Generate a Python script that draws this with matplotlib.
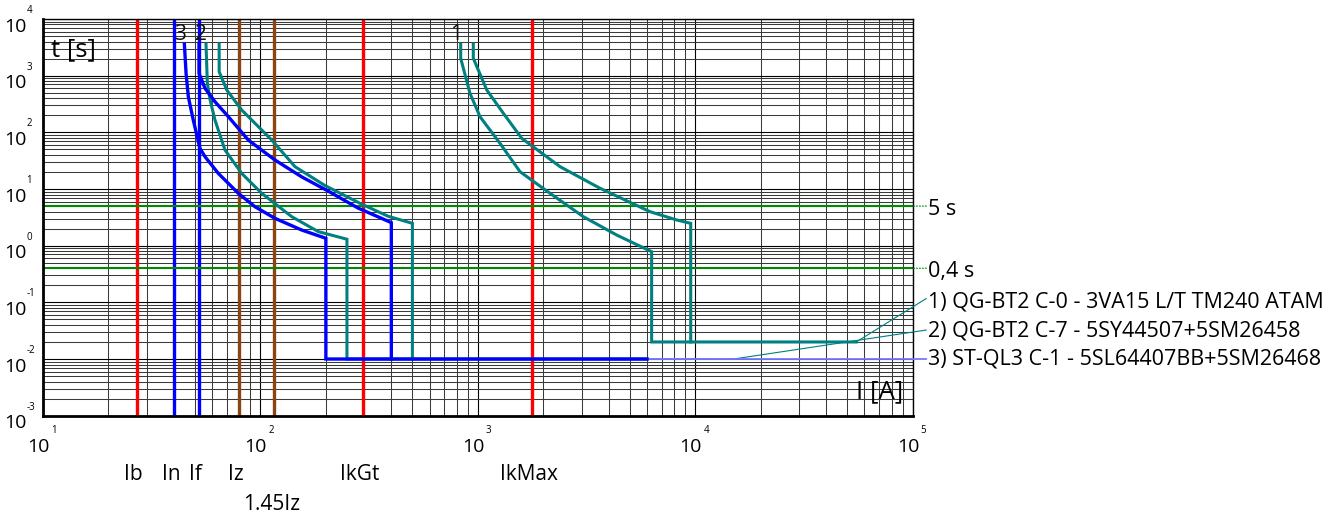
import numpy as np
import matplotlib
matplotlib.use("Agg")
import matplotlib.pyplot as plt
from matplotlib.ticker import LogLocator, NullFormatter

plt.rcParams['font.family'] = ['Open Sans', 'DejaVu Sans']

# Reference currents drawn as vertical markers (A)
ref_names = ['Ib', 'In', 'If', 'Iz', '1.45Iz', 'IkGt', 'IkMax']
ref_currents = [27, 40, 52, 80, 116, 295, 1770]
ref_colors = ['#FF0000', '#0000FF', '#0000FF', '#8B4513', '#8B4513', '#FF0000', '#FF0000']
ref_rows = [0, 0, 0, 0, 1, 0, 0]

# Disconnection time limits (s)
time_limits = [5, 0.4]
time_labels = ['5 s', '0,4 s']

# Device 1: QG-BT2 C-0 (3VA15 TM240)
dev1_min_I = [834, 834, 920, 1023, 1264, 1563, 2148, 3056, 4353, 6300, 6300, 55000]
dev1_min_t = [3600, 2026, 489, 189, 64.1, 20.2, 8.4, 3.25, 1.54, 0.783, 0.02, 0.02]
dev1_max_I = [953, 953, 1099, 1310, 1592, 2388, 3648, 6194, 8222, 9530, 9530]
dev1_max_t = [3600, 2026, 559, 217, 78.5, 24.8, 10.3, 3.98, 2.84, 2.48, 0.02]

# Device 2: QG-BT2 C-7 (5SY44507)
dev2_min_I = [56.2, 57.0, 58.7, 61.8, 68.7, 82.0, 101.4, 139.3, 184.6, 250, 250, 6000]
dev2_min_t = [3600, 733, 372, 165, 48.8, 18.9, 8.4, 3.25, 1.77, 1.30, 0.01, 0.01]
dev2_max_I = [64.6, 64.6, 70.0, 82.0, 112.7, 144.2, 198.2, 292.4, 387, 500, 500]
dev2_max_t = [3600, 1175, 559, 248, 73.3, 24.8, 11.5, 5.4, 3.3, 2.48, 0.01]
dev2_tail_I = [6000, 15000]
dev2_tail_t = [0.01, 0.01]

# Device 3: ST-QL3 C-1 (5SL64407BB)
dev3_min_I = [44.7, 45.5, 46.6, 49.1, 52.7, 55.6, 64.0, 79.1, 94.4, 116.6, 154.8, 200, 200, 6000]
dev3_min_t = [3600, 1100, 426, 165, 52.3, 37.2, 18.9, 8.4, 4.87, 3.04, 1.89, 1.35, 0.01, 0.01]
dev3_max_I = [52.2, 52.2, 55.6, 61.8, 71.2, 87.9, 116.6, 155.2, 204.7, 281, 400, 400]
dev3_max_t = [3600, 1100, 599, 347, 189, 73.3, 32.5, 16.3, 9.2, 4.62, 2.55, 0.01]

device_labels = ['1) QG-BT2 C-0 - 3VA15 L/T TM240 ATAM',
                 '2) QG-BT2 C-7 - 5SY44507+5SM26458',
                 '3) ST-QL3 C-1 - 5SL64407BB+5SM26468']
x_decades = [1, 2, 3, 4, 5]
y_decades = [-3, -2, -1, 0, 1, 2, 3, 4]

TEAL = '#008080'
BLUE = '#0000FF'
GREEN = '#008A00'

fig = plt.figure(figsize=(13.37, 5.15), dpi=100)
ax = fig.add_axes([0.03216, 0.19282, 0.65048, 0.77029])
ax.set_xscale('log')
ax.set_yscale('log')
ax.set_xlim(10, 1e5)
ax.set_ylim(1e-3, 1e4)

for axis in (ax.xaxis, ax.yaxis):
    axis.set_major_locator(LogLocator(base=10, numticks=20))
    axis.set_minor_locator(LogLocator(base=10, subs=np.arange(2, 10), numticks=200))
    axis.set_major_formatter(NullFormatter())
    axis.set_minor_formatter(NullFormatter())
ax.tick_params(which='both', length=0)
ax.set_axisbelow(True)
ax.grid(which='major', color='#000000', lw=0.8)
ax.grid(which='minor', color='#3a3a3a', lw=0.75)

for side in ('left', 'bottom'):
    ax.spines[side].set_linewidth(2.0)
for side in ('top', 'right'):
    ax.spines[side].set_linewidth(1.0)

# reference current markers
for cur, col in zip(ref_currents, ref_colors):
    ax.axvline(cur, color=col, lw=2.4, zorder=2)

# time limits
for tl in time_limits:
    ax.axhline(tl, color=GREEN, lw=1.5, zorder=2)

# tripping characteristics
ax.plot(dev1_min_I, dev1_min_t, color=TEAL, lw=2.2, zorder=3, solid_joinstyle='miter')
ax.plot(dev1_max_I, dev1_max_t, color=TEAL, lw=2.2, zorder=3, solid_joinstyle='miter')
ax.plot(dev2_tail_I, dev2_tail_t, color=TEAL, lw=1.3, ls=(0, (1, 0.6)), zorder=3)
ax.plot(dev2_min_I, dev2_min_t, color=TEAL, lw=2.2, zorder=3, solid_joinstyle='miter')
ax.plot(dev2_max_I, dev2_max_t, color=TEAL, lw=2.2, zorder=3, solid_joinstyle='miter')
ax.plot(dev3_min_I, dev3_min_t, color=BLUE, lw=2.4, zorder=4, solid_joinstyle='miter')
ax.plot(dev3_max_I, dev3_max_t, color=BLUE, lw=2.4, zorder=4, solid_joinstyle='miter')

# curve numbers
for num, (i0, t0) in zip(['1', '2', '3'],
                         [(dev1_min_I[0], dev1_min_t[0]),
                          (dev2_min_I[0], dev2_min_t[0]),
                          (dev3_min_I[0], dev3_min_t[0])]):
    ax.annotate(num, xy=(i0, t0), xytext=(0.8, 3.0), textcoords='offset points',
                ha='right', va='baseline', fontsize=15, color='#111111')

# axis quantity labels
ax.annotate('t [s]', xy=(0, 1), xycoords='axes fraction', xytext=(5.5, -22.5),
            textcoords='offset points', ha='left', va='center', fontsize=18.5)
ax.annotate('I [A]', xy=(1, 0), xycoords='axes fraction', xytext=(-6.5, 17.5),
            textcoords='offset points', ha='right', va='center', fontsize=18.5)

# decade labels
for d in x_decades:
    ax.annotate('10', xy=(10.0 ** d, 0), xycoords=('data', 'axes fraction'),
                xytext=(4.6, -25.9), textcoords='offset points',
                ha='right', va='baseline', fontsize=14, annotation_clip=False)
    ax.annotate(str(d), xy=(10.0 ** d, 0), xycoords=('data', 'axes fraction'),
                xytext=(5.8, -12.8), textcoords='offset points',
                ha='left', va='baseline', fontsize=7, annotation_clip=False)
for d in y_decades:
    ax.annotate('10', xy=(0, 10.0 ** d), xycoords=('axes fraction', 'data'),
                xytext=(-12.0, -9.1), textcoords='offset points',
                ha='right', va='baseline', fontsize=14, annotation_clip=False)
    ax.annotate(str(d), xy=(0, 10.0 ** d), xycoords=('axes fraction', 'data'),
                xytext=(-11.8, 4.3), textcoords='offset points',
                ha='left', va='baseline', fontsize=7, annotation_clip=False)

# reference current names below the axis
for name, cur, row in zip(ref_names, ref_currents, ref_rows):
    ax.annotate(name, xy=(cur, 0), xycoords=('data', 'axes fraction'),
                xytext=(-2.2, -46.3 - 21.6 * row), textcoords='offset points',
                ha='center', va='baseline', fontsize=15, annotation_clip=False)

# time limit labels with dotted leaders
for tl, lab in zip(time_limits, time_labels):
    ax.annotate('', xy=(1.0, tl), xycoords=('axes fraction', 'data'),
                xytext=(1.0157, tl), textcoords=('axes fraction', 'data'),
                arrowprops=dict(arrowstyle='-', color=GREEN, lw=0.8, ls=':',
                                shrinkA=0, shrinkB=0), annotation_clip=False)
    ax.annotate(lab, xy=(1.0, tl), xycoords=('axes fraction', 'data'),
                xytext=(11.3, -6.6), textcoords='offset points',
                ha='left', va='baseline', fontsize=15.5, annotation_clip=False)

# device legend with leader lines
legend_y = [0.2854, 0.2140, 0.1429]
leader_end_y = [0.2955, 0.2160, 0.1429]
leader_start = [(dev1_min_I[-1], dev1_min_t[-1]),
                (dev2_tail_I[-1], dev2_tail_t[-1]),
                (dev3_min_I[-1], dev3_min_t[-1])]
leader_colors = [TEAL, TEAL, '#7878FF']
leader_widths = [0.8, 0.8, 1.3]
for lab, ly, ey, st, lc, lw in zip(device_labels, legend_y, leader_end_y,
                                   leader_start, leader_colors, leader_widths):
    ax.annotate('', xy=st, xycoords='data', xytext=(1.0157, ey),
                textcoords='axes fraction',
                arrowprops=dict(arrowstyle='-', color=lc, lw=lw,
                                shrinkA=0, shrinkB=0), annotation_clip=False)
    ax.annotate(lab, xy=(1.0176, ly), xycoords='axes fraction',
                ha='left', va='center', fontsize=15.5, annotation_clip=False)

fig.savefig('out.png', dpi=100)
